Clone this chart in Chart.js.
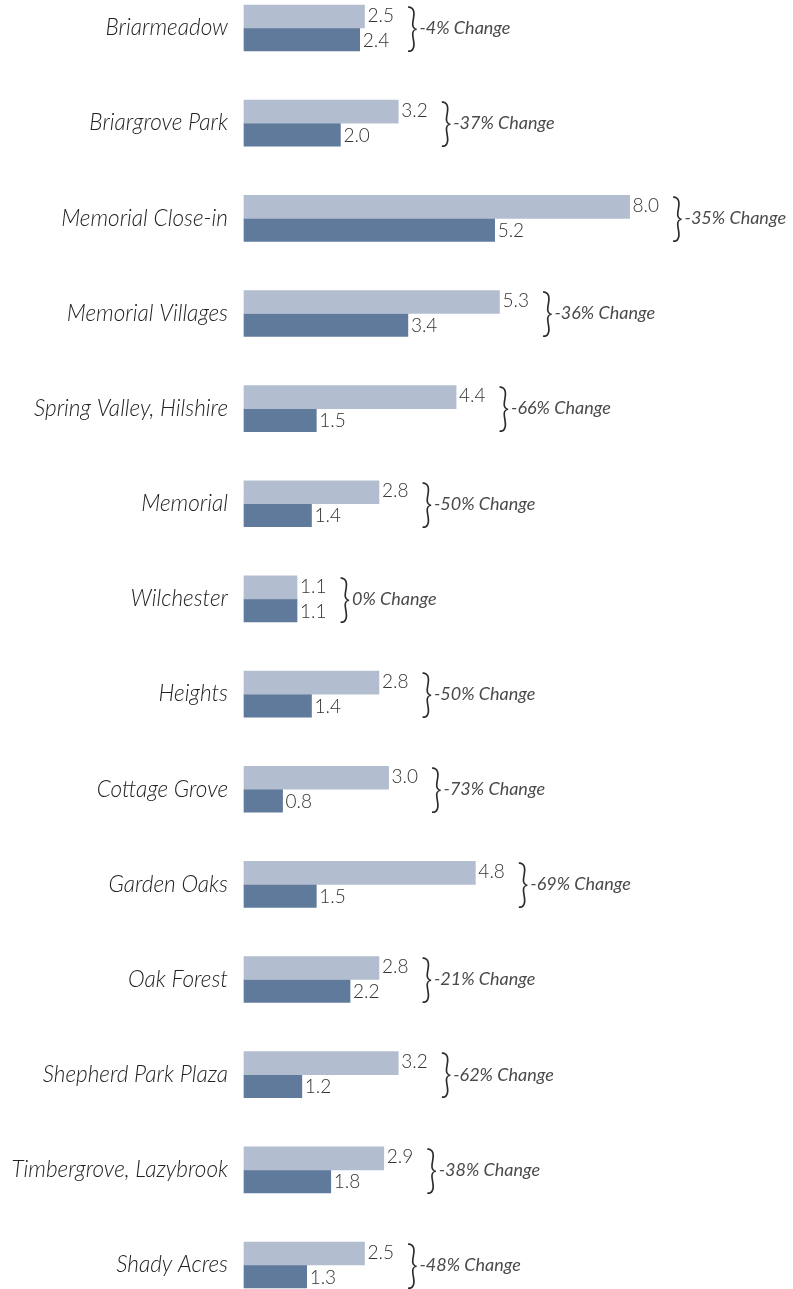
<!DOCTYPE html>
<html>
<head>
<meta charset="utf-8">
<script src="https://cdn.jsdelivr.net/npm/chart.js@4"></script>
<style>
  body { margin: 0; background: #fff; }
  #wrap { width: 793px; height: 1289px; }
</style>
</head>
<body>
<div id="wrap"><canvas id="barChart"></canvas></div>
<script>
var neighborhoods = [
    "Briarmeadow",
    "Briargrove Park",
    "Memorial Close-in",
    "Memorial Villages",
    "Spring Valley, Hilshire",
    "Memorial",
    "Wilchester",
    "Heights",
    "Cottage Grove",
    "Garden Oaks",
    "Oak Forest",
    "Shepherd Park Plaza",
    "Timbergrove, Lazybrook",
    "Shady Acres",
];
var previousValues = [2.5, 3.2, 8.0, 5.3, 4.4, 2.8, 1.1, 2.8, 3.0, 4.8, 2.8, 3.2, 2.9, 2.5];
var currentValues = [2.4, 2.0, 5.2, 3.4, 1.5, 1.4, 1.1, 1.4, 0.8, 1.5, 2.2, 1.2, 1.8, 1.3];
var changeLabels = [
    "-4% Change", "-37% Change", "-35% Change", "-36% Change", "-66% Change",
    "-50% Change", "0% Change", "-50% Change", "-73% Change", "-69% Change",
    "-21% Change", "-62% Change", "-38% Change", "-48% Change",
];

// value labels, brace and change text beside each pair of bars
var pairLabels = {
    id: "pairLabels",
    afterDatasetsDraw: function (chart) {
        var ctx = chart.ctx;
        var lightBars = chart.getDatasetMeta(0).data;
        var darkBars = chart.getDatasetMeta(1).data;
        ctx.save();
        ctx.textAlign = "left";
        ctx.textBaseline = "middle";
        lightBars.forEach(function (bar, i) {
            var dark = darkBars[i];
            ctx.fillStyle = "#333";
            ctx.font = "300 19px Lato";
            ctx.fillText(previousValues[i].toFixed(1), bar.x + 3, bar.y - 1);
            ctx.fillText(currentValues[i].toFixed(1), dark.x + 3, dark.y + 1);

            var bx = Math.max(bar.x, dark.x) + 42;
            var cy = (bar.y + dark.y) / 2;
            // stretch the brace so it spans both bars
            ctx.save();
            ctx.translate(bx, cy);
            ctx.scale(1, 1.3);
            ctx.fillStyle = "#2b2b2b";
            ctx.font = "300 40px Lato";
            ctx.fillText("}", 0, 0);
            ctx.restore();

            ctx.fillStyle = "#4a4a4a";
            ctx.font = "italic 18px Lato";
            ctx.fillText(changeLabels[i], bx + 13, cy);
        });
        ctx.restore();
    },
};

var ctxBar = document.getElementById("barChart").getContext("2d");
var barChart = new Chart(ctxBar, {
    type: "bar",
    data: {
        labels: neighborhoods,
        datasets: [
            {
                label: "Previous",
                data: previousValues,
                backgroundColor: "#b3bdd0",
                barThickness: 23,
                clip: false,
            },
            {
                label: "Current",
                data: currentValues,
                backgroundColor: "#5f7a9a",
                barThickness: 23,
                clip: false,
            },
        ],
    },
    options: {
        indexAxis: "y",
        responsive: true,
        maintainAspectRatio: false,
        animation: false,
        layout: { padding: { top: 28, bottom: 24, left: 0, right: 0 } },
        plugins: {
            legend: { display: false },
            tooltip: { enabled: false },
        },
        scales: {
            x: {
                display: false,
                min: 0,
                max: 11.39,
            },
            y: {
                offset: false,
                grid: { display: false, drawTicks: false },
                border: { display: false },
                ticks: {
                    padding: 16,
                    color: "#222",
                    font: { family: "Lato", style: "italic", size: 22.6, weight: "300" },
                },
                afterFit: function (scale) {
                    scale.width = 244;
                    scale.paddingTop = 0;
                    scale.paddingBottom = 0;
                },
            },
        },
    },
    plugins: [pairLabels],
});
</script>
</body>
</html>
